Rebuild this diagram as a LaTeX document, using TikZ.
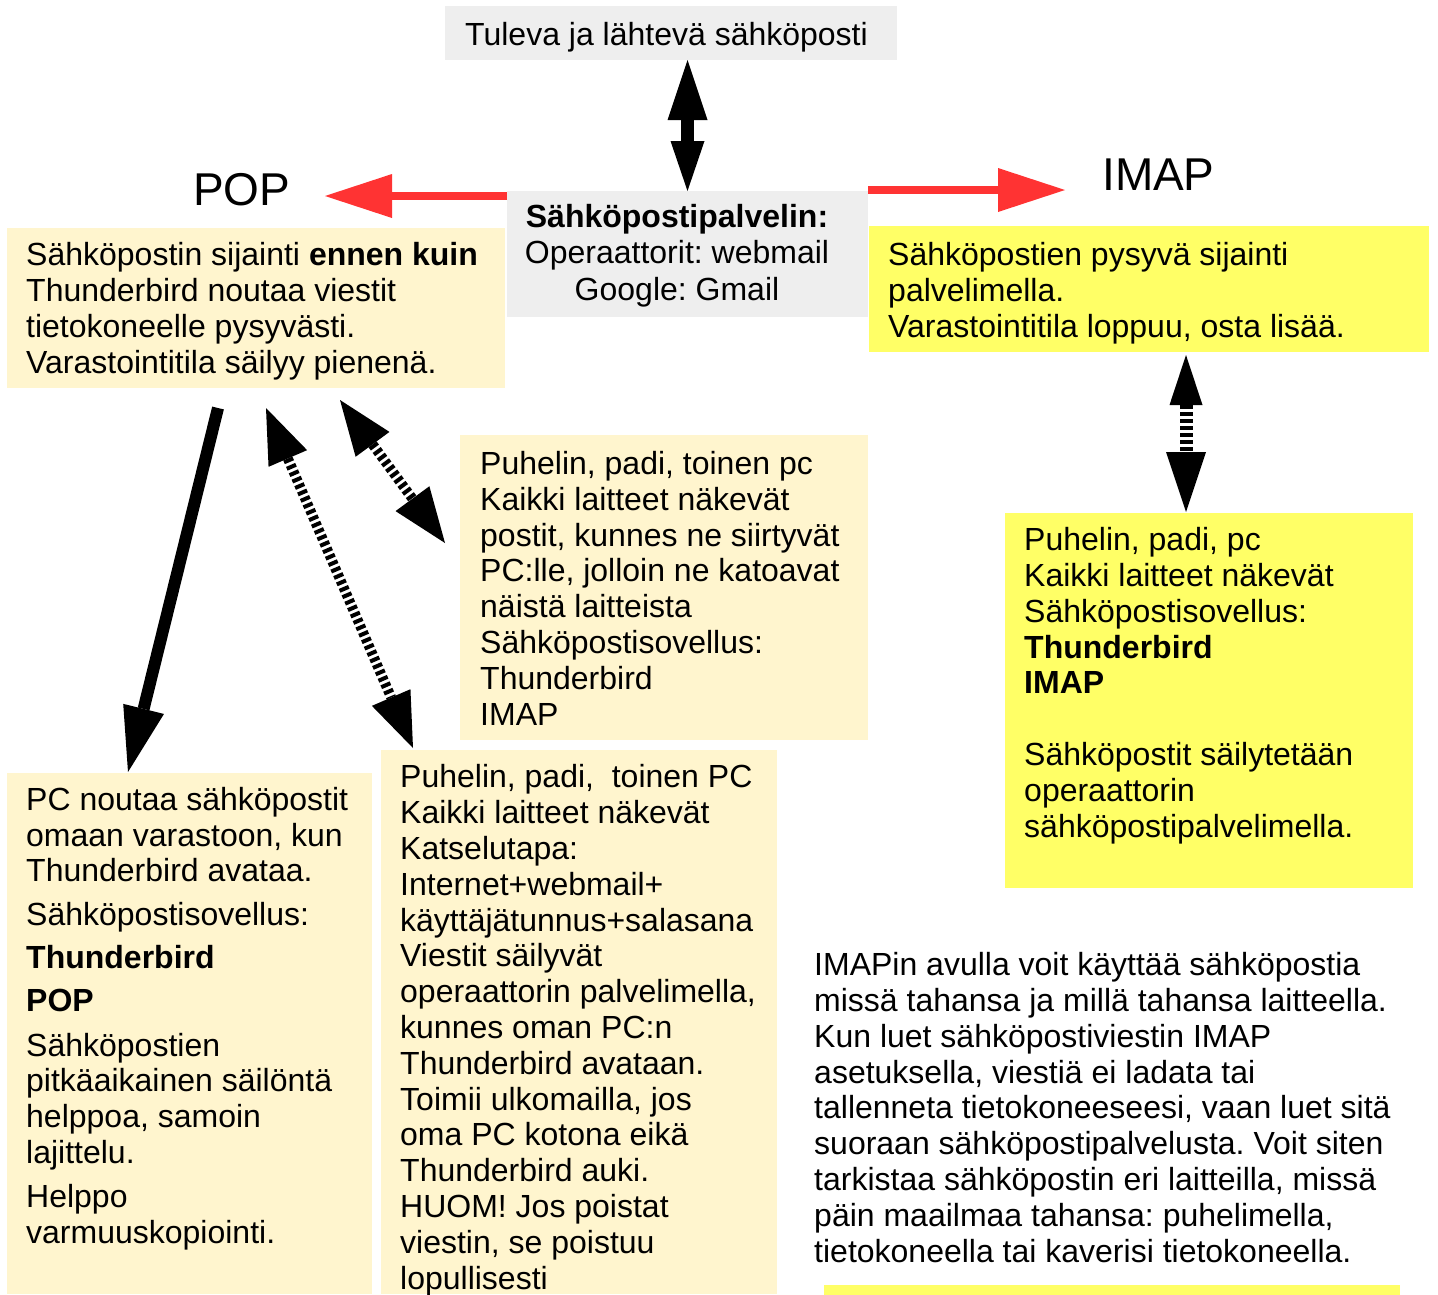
\documentclass[tikz,border=0pt]{standalone}
\usepackage{fontspec}
\setmainfont{Liberation Sans}
\usetikzlibrary{arrows.meta, calc}
\definecolor{boxgray}{HTML}{EEEEEE}
\definecolor{popcream}{HTML}{FFF5CE}
\definecolor{imapyellow}{HTML}{FFFF66}
\definecolor{arrowred}{HTML}{FF3333}
\frenchspacing

\begin{document}
\begin{tikzpicture}[x=1pt,y=-1pt,
  box/.style={anchor=north west, inner sep=0pt, outer sep=0pt},
  txt/.style={anchor=base west, align=left, inner sep=0pt, font=\fontsize{32}{35.8}\selectfont},
  title/.style={anchor=base west, inner sep=0pt, font=\fontsize{46}{52}\selectfont},
  redarrow/.style={color=arrowred, line width=7.5pt, -{Triangle[width=44pt,length=67pt,line width=0pt]}},
  blackarrow/.style={line width=12pt, -{Triangle[width=42pt,length=65pt,line width=0pt]}},
  dasharrow/.style={line width=10pt, dash pattern=on 4pt off 3pt,
    {Triangle[width=42pt,length=55pt,line width=0pt]}-{Triangle[width=42pt,length=55pt,line width=0pt]}}]
\useasboundingbox (0,0) rectangle (1438,1294);

\node[box, fill=boxgray, minimum width=452, minimum height=54] (topbox) at (445,6) {};
\node[txt] (toptext) at (465,45) {Tuleva ja lähtevä sähköposti};

\node[box, fill=boxgray, minimum width=361, minimum height=126] (server) at (507,191) {};
\node[txt, anchor=base, align=center, font=\fontsize{32}{36.2}\selectfont] (servertext) at (677,300) {\textbf{Sähköpostipalvelin:}\\Operaattorit: webmail\\Google: Gmail};

\node[title] (poplabel) at (193,205) {POP};
\node[title] (imaplabel) at (1102,190) {IMAP};
\coordinate (popin) at (325,196);
\coordinate (imapin) at (1065,190);

\node[box, fill=popcream, minimum width=498, minimum height=160] (popbox) at (7,228) {};
\node[txt] (poptext) at (26,373) {Sähköpostin sijainti \textbf{ennen kuin}\\Thunderbird noutaa viestit\\tietokoneelle pysyvästi.\\Varastointitila säilyy pienenä.};

\node[box, fill=imapyellow, minimum width=560, minimum height=126] (imapbox) at (869,226) {};
\node[txt] (imaptext) at (888,337) {Sähköpostien pysyvä sijainti\\palvelimella.\\Varastointitila loppuu, osta lisää.};

\node[box, fill=popcream, minimum width=408, minimum height=305] (devbox) at (460,435) {};
\node[txt] (devtext) at (480,725) {Puhelin, padi, toinen pc\\Kaikki laitteet näkevät\\postit, kunnes ne siirtyvät\\PC:lle, jolloin ne katoavat\\näistä laitteista\\Sähköpostisovellus:\\Thunderbird\\IMAP};

\node[box, fill=imapyellow, minimum width=408, minimum height=375] (imapdev) at (1005,513) {};
\node[txt] (imapdevtext) at (1024,837) {Puhelin, padi, pc\\Kaikki laitteet näkevät\\Sähköpostisovellus:\\\textbf{Thunderbird}\\\textbf{IMAP}\\[35.8pt]Sähköpostit säilytetään\\operaattorin\\sähköpostipalvelimella.};

\node[box, fill=popcream, minimum width=365, minimum height=521] (pcbox) at (7,773) {};
\node[txt] (pctext) at (26,1243) {PC noutaa sähköpostit\\omaan varastoon, kun\\Thunderbird avataa.\\[8pt]Sähköpostisovellus:\\[7pt]\textbf{Thunderbird}\\[7pt]\textbf{POP}\\[9pt]Sähköpostien\\pitkäaikainen säilöntä\\helppoa, samoin\\lajittelu.\\[8pt]Helppo\\varmuuskopiointi.};

\node[box, fill=popcream, minimum width=396, minimum height=544] (webbox) at (381,750) {};
\node[txt] (webtext) at (400,1289) {Puhelin, padi,\ \ toinen PC\\Kaikki laitteet näkevät\\Katselutapa:\\Internet+webmail+\\käyttäjätunnus+salasana\\Viestit säilyvät\\operaattorin palvelimella,\\kunnes oman PC:n\\Thunderbird avataan.\\Toimii ulkomailla, jos\\oma PC kotona eikä\\Thunderbird auki.\\HUOM! Jos poistat\\viestin, se poistuu\\lopullisesti};

\node[txt] (imapnote) at (814,1262) {IMAPin avulla voit käyttää sähköpostia\\missä tahansa ja millä tahansa laitteella.\\Kun luet sähköpostiviestin IMAP\\asetuksella, viestiä ei ladata tai\\tallenneta tietokoneeseesi, vaan luet sitä\\suoraan sähköpostipalvelusta. Voit siten\\tarkistaa sähköpostin eri laitteilla, missä\\päin maailmaa tahansa: puhelimella,\\tietokoneella tai kaverisi tietokoneella.};

\node[box, fill=imapyellow, minimum width=576, minimum height=12] (strip) at (824,1285) {};

\draw[line width=13pt, {Triangle[width=40pt,length=60pt,line width=0pt]}-{Triangle[width=34pt,length=50pt,line width=0pt]}] (server.north |- topbox.south) -- (server.north);
\draw[redarrow] ($(server.north west)+(0,5)$) -- (popin);
\draw[redarrow] ($(server.north east)+(0,-1)$) -- (imapin);
\draw[blackarrow] ($(popbox.south west)+(211,20)$) -- ($(pcbox.north west)+(121,-1)$);
\draw[dasharrow] ($(popbox.south west)+(259,20)$) -- ($(webbox.north west)+(32,-2)$);
\draw[dasharrow] ($(popbox.south west)+(333,12)$) -- ($(devbox.north west)+(-15,108)$);
\draw[line width=13pt, dash pattern=on 4pt off 3pt, {Triangle[width=33pt,length=50pt,line width=0pt]}-{Triangle[width=40pt,length=60pt,line width=0pt]}] ($(imapbox.south west)+(317,3)$) -- ($(imapdev.north west)+(181,-1)$);
\end{tikzpicture}
\end{document}
